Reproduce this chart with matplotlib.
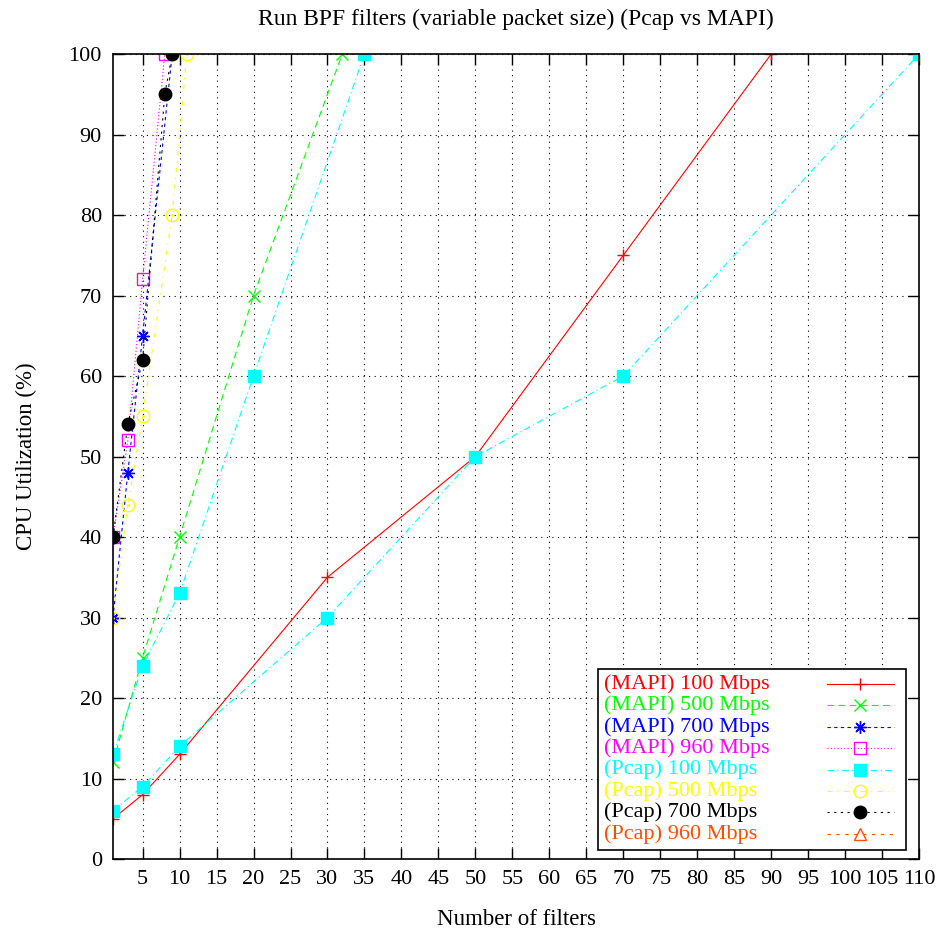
import matplotlib
matplotlib.use("Agg")
import matplotlib.pyplot as plt

plt.rcParams["font.family"] = ["Liberation Serif", "DejaVu Serif"]

# data
mapi100_x = [1, 5, 10, 30, 50, 70, 90]
mapi100_y = [5, 8, 13, 35, 50, 75, 100]
mapi500_x = [1, 5, 10, 20, 32]
mapi500_y = [12, 25, 40, 70, 100]
mapi700_x = [1, 3, 5, 9]
mapi700_y = [30, 48, 65, 100]
mapi960_x = [1, 3, 5, 8]
mapi960_y = [40, 52, 72, 100]
pcap100_x = [1, 5, 10, 30, 50, 70, 110]
pcap100_y = [6, 9, 14, 30, 50, 60, 100]
pcap100b_x = [1, 5, 10, 20, 35]
pcap100b_y = [13, 24, 33, 60, 100]
pcap500_x = [1, 3, 5, 9, 11]
pcap500_y = [30, 44, 55, 80, 100]
pcap700_x = [1, 3, 5, 8, 9]
pcap700_y = [40, 54, 62, 95, 100]
pcap960_x = []
pcap960_y = []

x_ticks = list(range(5, 111, 5))
y_ticks = list(range(0, 101, 10))

orange = "#FF4D00"
star = (8, 2, 0)
series = [
    ("(MAPI) 100 Mbps", mapi100_x, mapi100_y, "#FF0000", "-", "+", "none"),
    ("(MAPI) 500 Mbps", mapi500_x, mapi500_y, "#00FF00", (0, (6, 4)), "x", "none"),
    ("(MAPI) 700 Mbps", mapi700_x, mapi700_y, "#0000FF", (0, (3, 3)), star, "none"),
    ("(MAPI) 960 Mbps", mapi960_x, mapi960_y, "#FF00FF", (0, (1, 2)), "s", "none"),
    ("(Pcap) 100 Mbps", pcap100_x, pcap100_y, "#00FFFF", (0, (6, 3, 1, 3)), "s", "#00FFFF"),
    ("(Pcap) 500 Mbps", pcap500_x, pcap500_y, "#FFFF00", (0, (4, 5, 1, 5)), "o", "none"),
    ("(Pcap) 700 Mbps", pcap700_x, pcap700_y, "#000000", (0, (2, 4)), "o", "#000000"),
    ("(Pcap) 960 Mbps", pcap960_x, pcap960_y, orange, (0, (3, 5)), "^", "none"),
]

fig = plt.figure(figsize=(9.45, 9.33), dpi=100)
ax = fig.add_axes([0.1196, 0.0793, 0.853, 0.8628])

for label, xs, ys, col, ls, mk, fc in series:
    ax.plot(xs, ys, color=col, linestyle=ls, linewidth=0.8, marker=mk,
            markersize=9, markerfacecolor=fc, markeredgecolor=col, markeredgewidth=1)
    if label == "(Pcap) 100 Mbps":
        ax.plot(pcap100b_x, pcap100b_y, color=col, linestyle=ls, linewidth=0.8,
                marker=mk, markersize=9, markerfacecolor=fc, markeredgecolor=col)
    if label == "(Pcap) 500 Mbps":
        ax.plot(xs, ys, linestyle="none", marker=".", markersize=2, color=col)

ax.set_xlim(1, 110)
ax.set_ylim(0, 100)
ax.set_xticks(x_ticks)
ax.set_yticks(y_ticks)
ax.tick_params(direction="in", length=8, width=1, labelsize=16, top=True, right=True, pad=8)
ax.grid(True, color="black", linestyle=(0, (1, 4)), linewidth=0.8)
for sp in ax.spines.values():
    sp.set_linewidth(1.2)

ax.set_title("Run BPF filters (variable packet size) (Pcap vs MAPI)", fontsize=17, pad=21)
ax.set_xlabel("Number of filters", fontsize=16.5, labelpad=14)
ax.set_ylabel("CPU Utilization (%)", fontsize=16.5, labelpad=23)

# legend drawn by hand: text left, sample on the right
box = plt.Rectangle((0.602, 0.011), 0.382, 0.225, transform=ax.transAxes,
                    facecolor="white", edgecolor="black", linewidth=1.2, zorder=5)
ax.add_patch(box)
for i, (label, xs, ys, col, ls, mk, fc) in enumerate(series):
    yy = 0.2175 - i * 0.0266
    ax.text(0.609, yy, label, color=col, fontsize=16, va="center", ha="left",
            transform=ax.transAxes, zorder=6)
    ax.plot([0.886, 0.969], [yy, yy], color=col, linestyle=ls, linewidth=0.8,
            transform=ax.transAxes, zorder=6, clip_on=False)
    ax.plot([0.927], [yy], color=col, marker=mk, markersize=9, markerfacecolor=fc,
            markeredgecolor=col, linestyle="none", transform=ax.transAxes, zorder=6,
            clip_on=False)

fig.savefig("out.png", dpi=100)
